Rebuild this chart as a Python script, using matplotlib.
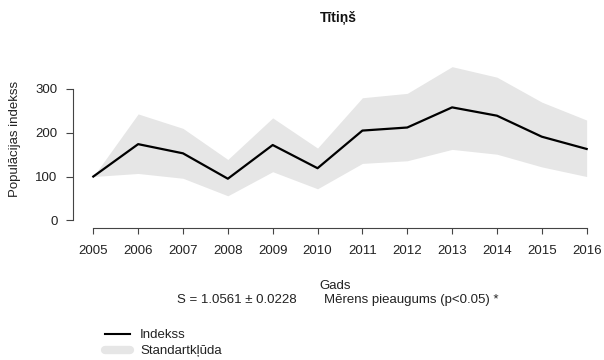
import matplotlib
matplotlib.use("Agg")
import matplotlib.pyplot as plt
from matplotlib.lines import Line2D

plt.rcParams['font.family'] = ['Liberation Sans', 'DejaVu Sans']

years = [2005, 2006, 2007, 2008, 2009, 2010, 2011, 2012, 2013, 2014, 2015, 2016]
index = [100, 174, 153, 95, 172, 119, 205, 212, 258, 239, 191, 163]
upper = [100, 243, 210, 139, 234, 165, 280, 290, 351, 327, 270, 229]
lower = [100, 107, 96, 56, 111, 72, 130, 136, 162, 151, 122, 100]
yticks = [0, 100, 200, 300]

title = "Tītiņš"
xlabel = "Gads"
ylabel = "Populācijas indekss"
stat_text = "S = 1.0561 ± 0.0228"
trend_text = "Mērens pieaugums (p<0.05) *"
legend_labels = ["Indekss", "Standartkļūda"]

W, H = 604, 360
fig = plt.figure(figsize=(W / 100, H / 100), dpi=100)

# plot region in pixels
L, R, T, B = 72.7, 604.0, 50.0, 228.3
ax = fig.add_axes([L / W, 1 - B / H, (R - L) / W, (B - T) / H])

px_per_year = 44.85
x0_px = 93.3
ax.set_xlim(2005 - (x0_px - L) / px_per_year, 2016 + (R - (x0_px + 11 * px_per_year)) / px_per_year)
py_per_unit = 0.4377
y0_px = 220.3
ax.set_ylim(-(B - y0_px) / py_per_unit, (y0_px - T) / py_per_unit)

fill_col = "#e6e6e6"
ax.fill_between(years, lower, upper, color=fill_col, linewidth=0)
ax.plot(years, index, color="black", linewidth=1.6)

axis_col = "#444444"
text_col = "#222222"
for s in ["top", "right"]:
    ax.spines[s].set_visible(False)
ax.spines["left"].set_bounds(0, 300)
ax.spines["bottom"].set_bounds(2005, 2016)
for s in ["left", "bottom"]:
    ax.spines[s].set_color(axis_col)
    ax.spines[s].set_linewidth(0.8)

ax.set_xticks(years)
ax.set_xticklabels([str(y) for y in years])
ax.set_yticks(yticks)
ax.set_yticklabels([str(v) for v in yticks])
ax.tick_params(axis="both", colors=axis_col, labelcolor=text_col, labelsize=9.5, width=0.8)
ax.tick_params(axis="y", length=4.8, pad=6)
ax.tick_params(axis="x", length=4.3, pad=8)

ax.set_facecolor("none")

fig.text(338 / W, 1 - 18 / H, title, ha="center", va="center", fontsize=10, fontweight="bold", color="#111111")
fig.text(15 / W, 1 - 139 / H, ylabel, ha="center", va="center", rotation=90, fontsize=9.5, color=text_col)
fig.text(335 / W, 1 - 285.7 / H, xlabel, ha="center", va="center", fontsize=9.5, color=text_col)
fig.text(297 / W, 1 - 300 / H, stat_text, ha="right", va="center", fontsize=9.5, color=text_col)
fig.text(324 / W, 1 - 300 / H, trend_text, ha="left", va="center", fontsize=9.5, color=text_col)

handles = [Line2D([0], [0], color="black", linewidth=1.5),
           Line2D([0], [0], color=fill_col, linewidth=6, solid_capstyle="round")]
fig.legend(handles, legend_labels, loc="upper left",
           bbox_to_anchor=(105 / W, 1 - 329 / H), bbox_transform=fig.transFigure,
           frameon=False, borderpad=0, borderaxespad=0, handlelength=1.9,
           handletextpad=0.75, labelspacing=0.3, fontsize=9.5, labelcolor=text_col)

fig.savefig("out.png", dpi=100, facecolor="white")
